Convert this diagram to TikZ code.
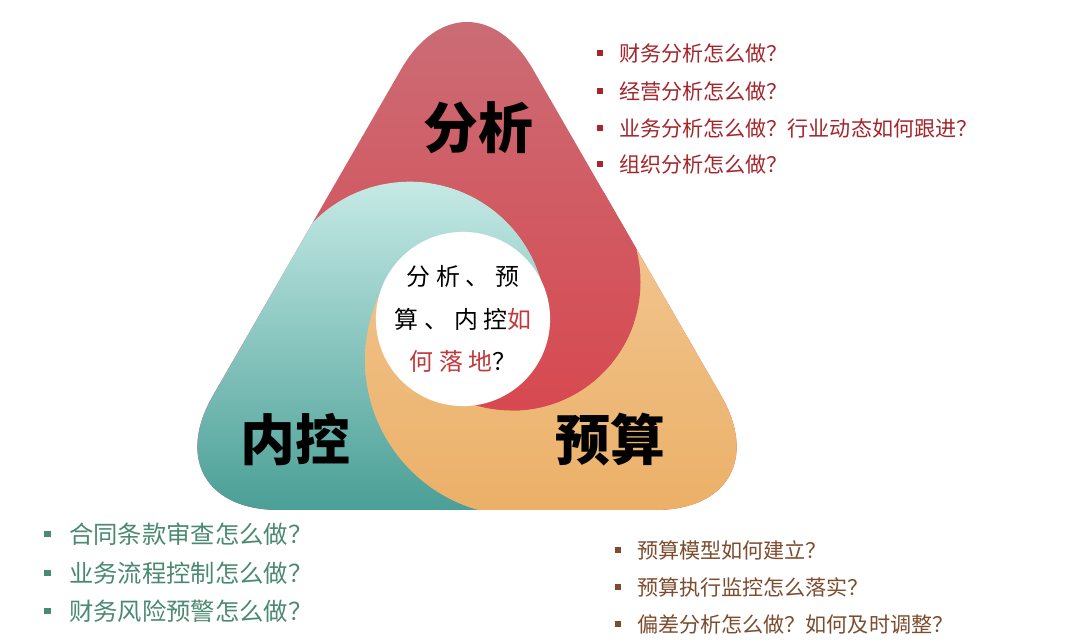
\documentclass[tikz,border=0pt]{standalone}
\usepackage{fontspec}
\usepackage{xcolor}
\setmainfont{Noto Sans CJK SC}
\newfontfamily\handfont{Noto Sans CJK SC}[LetterSpace=25]
\definecolor{analysistop}{HTML}{CB6C75}
\definecolor{analysisdeep}{HTML}{DB3F46}
\definecolor{controllight}{HTML}{C6EAE6}
\definecolor{controlmid}{HTML}{62B7AE}
\definecolor{controldeep}{HTML}{489E95}
\definecolor{budgetlight}{HTML}{F3CB9B}
\definecolor{budgetdeep}{HTML}{EBB067}
\definecolor{asktext}{HTML}{A4262C}
\definecolor{controltext}{HTML}{4B8A72}
\definecolor{budgettext}{HTML}{7D4C2D}
\definecolor{landred}{HTML}{C2383C}
\newcommand{\sqitem}[1]{\raisebox{0.24em}{\rule{0.28em}{0.28em}}\hspace{0.75em}#1}

\begin{document}
\begin{tikzpicture}[
  x=0.025cm,
  y=-0.025cm,
  redshade/.style={top color=analysistop, bottom color=analysisdeep},
  tealshade/.style={top color=controllight, middle color=controlmid, bottom color=controldeep},
  orangeshade/.style={top color=budgetlight, bottom color=budgetdeep},
  bigtag/.style={
    inner sep=0pt,
    text=black,
    font=\bfseries\fontsize{39}{39}\selectfont
  },
  askitem/.style={
    anchor=west,
    inner sep=0pt,
    font=\fontsize{15}{18}\selectfont
  },
  hub/.style={
    circle,
    fill=white,
    minimum size=4.15cm,
    inner sep=0pt,
    align=center,
    font=\handfont\fontsize{17}{30.5}\selectfont
  }
]

\useasboundingbox (0,0) rectangle (1080,642);
\fill[white] (0,0) rectangle (1080,642);

% Rounded triangle, three swirled arms
\begin{scope}
  \clip[rounded corners=3.3cm] (467,-45) -- (787,510) -- (147,510) -- cycle;
  \shade[redshade] (140,20) rectangle (800,515);
  % teal arm and corner
  \begin{scope}
    \clip (410,318) circle[radius=136.3];
    \shade[tealshade] (140,180) rectangle (800,515);
  \end{scope}
  \begin{scope}
    \clip (100,240) -- (300,240) -- (414,330) -- (525,330) -- (525,600) -- (100,600) -- cycle;
    \shade[tealshade] (140,180) rectangle (800,515);
  \end{scope}
  % orange arm and corner
  \begin{scope}
    \clip (-105,-91) -- (803,563) -- (803,700) -- (-105,700) -- cycle;
    \clip (521,360) circle[radius=156];
    \shade[orangeshade] (140,150) rectangle (800,515);
  \end{scope}
  \begin{scope}
    \clip (512,282) -- (1000,157) -- (1000,700) -- (512,700) -- cycle;
    \shade[orangeshade] (140,150) rectangle (800,515);
  \end{scope}
  % red arm, outside the teal arc
  \begin{scope}[even odd rule]
    \clip (0,0) rectangle (1080,700) (410,318) circle[radius=136.3];
    \clip (512,282) circle[radius=128.5];
    \shade[redshade] (140,20) rectangle (800,515);
  \end{scope}
  % red arm, below the tangent point
  \begin{scope}
    \clip (48,311) -- (878,327) -- (1080,327) -- (1080,700) -- (48,700) -- cycle;
    \clip (512,282) circle[radius=128.5];
    \shade[redshade] (140,20) rectangle (800,515);
  \end{scope}
\end{scope}

% Centre disc
\node[hub] (hub) at (463,319)
  {分析、预\\算、内控\textcolor{landred}{如}\\\textcolor{landred}{何落地}？};

% Corner titles
\node[bigtag] (analysis) at (478,128) {分析};
\node[bigtag] (control)  at (295,440) {内控};
\node[bigtag] (budget)   at (610,440) {预算};

% Questions, analysis
\node[askitem, text=asktext] (ana1) at (597,53)  {\sqitem{财务分析怎么做？}};
\node[askitem, text=asktext] (ana2) at (597,91)  {\sqitem{经营分析怎么做？}};
\node[askitem, text=asktext] (ana3) at (597,128) {\sqitem{业务分析怎么做？行业动态如何跟进？}};
\node[askitem, text=asktext] (ana4) at (597,164) {\sqitem{组织分析怎么做？}};

% Questions, internal control
\node[askitem, text=controltext, font=\fontsize{17.3}{20}\selectfont] (ctl1) at (44,534) {\sqitem{合同条款审查怎么做？}};
\node[askitem, text=controltext, font=\fontsize{17.3}{20}\selectfont] (ctl2) at (44,573) {\sqitem{业务流程控制怎么做？}};
\node[askitem, text=controltext, font=\fontsize{17.3}{20}\selectfont] (ctl3) at (44,611) {\sqitem{财务风险预警怎么做？}};

% Questions, budget
\node[askitem, text=budgettext] (bud1) at (615,550) {\sqitem{预算模型如何建立？}};
\node[askitem, text=budgettext] (bud2) at (615,587) {\sqitem{预算执行监控怎么落实？}};
\node[askitem, text=budgettext] (bud3) at (615,624) {\sqitem{偏差分析怎么做？如何及时调整？}};

\end{tikzpicture}
\end{document}
